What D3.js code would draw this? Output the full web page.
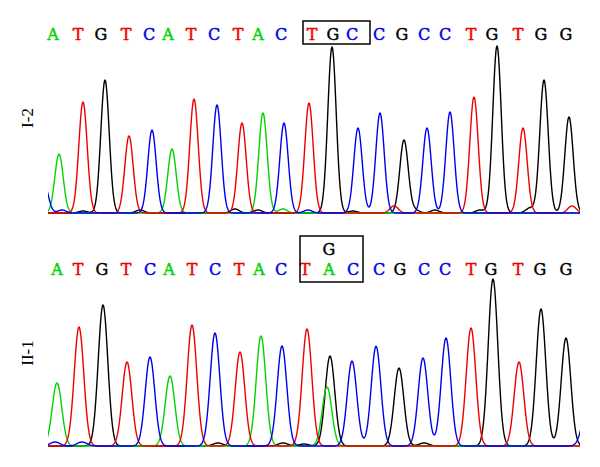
<!DOCTYPE html>
<html>
<head>
<meta charset="utf-8">
<script src="https://cdn.jsdelivr.net/npm/d3@7"></script>
<style>
  body { margin: 0; background: #fff; }
  svg { display: block; }
</style>
</head>
<body>
<div class="canvas"></div>
<script>
// base colours, as in the usual trace viewers
const baseColor = {A: '#00d400', C: '#0000ee', G: '#000000', T: '#ee0000'};

// ---- panel I-2 ----
const topCalls = 'ATGTCATCTACTGCCGCCTGTGG';
const topCallPos = [5, 30, 53, 78, 101, 120, 143, 166, 190, 210, 233, 264, 285, 304, 331, 354, 376, 397, 423, 444, 470, 493, 518];
const topPeakBase = 'ATGTCATCTACTGCCGCCTGTGG';
const topPeakPos = [11, 35, 57, 81, 104, 124, 146, 169, 194, 215, 236, 261, 284, 310, 332, 356, 379, 402, 426, 449, 475, 496, 521];
const topPeakHeight = [59, 111, 133, 77, 83, 64, 114, 108, 90, 100, 90, 110, 166, 85, 100, 73, 85, 101, 116, 167, 85, 133, 96];
const topNoiseBase = 'CCGGGGACGTGGGGT';
const topNoisePos = [-4, 14, 35, 92, 187, 210, 235, 260, 305, 346, 367, 387, 432, 482, 524];
const topNoiseHeight = [30, 3, 2, 3, 4, 3, 4, 3, 2, 7, 3, 3, 3, 5, 7];

// ---- panel II-1 ----
const botCalls = 'ATGTCATCTACTACCGCCTGTGG';
const botCallPos = [9, 30, 54, 78, 102, 121, 144, 167, 191, 211, 233, 257, 281, 305, 331, 352, 376, 397, 423, 443, 470, 492, 518];
const botPeakBase = 'ATGTCATCTACTGACCGCCTGTGG';
const botPeakPos = [9, 31, 55, 79, 102, 122, 144, 167, 192, 213, 234, 259, 282, 279, 304, 328, 351, 375, 398, 423, 445, 471, 493, 518];
const botPeakHeight = [63, 119, 141, 84, 89, 70, 121, 113, 94, 110, 100, 117, 90, 59, 85, 97, 78, 88, 108, 118, 167, 84, 137, 108];
const botNoiseBase = 'CCGGGCGC';
const botNoisePos = [7, 34, 170, 235, 256, 330, 376, 538];
const botNoiseHeight = [4, 4, 3, 3, 2, 3, 3, 30];

// highlighted codon (scan units) and the second call above it
const topBox = [255, 322];
const botBox = [252, 315];
const botExtraCall = {base: 'G', index: 12};

const width = 600;
const height = 467;
const callFont = '"DejaVu Serif", serif';

const svg = d3.select('.canvas')
  .append('svg')
  .attr('width', width)
  .attr('height', height);

const x = d3.scaleLinear()
  .domain([0, 532])
  .range([48, 580]);

svg.append('clipPath')
  .attr('id', 'plot-clip')
  .append('rect')
  .attr('x', x(0))
  .attr('y', 0)
  .attr('width', x(532) - x(0))
  .attr('height', height);

function callText(sel) {
  sel.attr('text-anchor', 'middle')
    .attr('font-family', callFont)
    .attr('font-size', 16)
    .attr('stroke-width', 0.45)
    .attr('fill', d => baseColor[d])
    .attr('stroke', d => baseColor[d])
    .text(d => d);
}

function drawPanel(opts) {
  const y = d3.scaleLinear()
    .domain([0, 180])
    .range([opts.baseline, opts.baseline - 180]);

  // build one trace per base as a sum of peaks
  const peaks = [];
  opts.peakBase.split('').forEach((b, i) => peaks.push({b: b, pos: opts.peakPos[i], h: opts.peakHeight[i]}));
  opts.noiseBase.split('').forEach((b, i) => peaks.push({b: b, pos: opts.noisePos[i], h: opts.noiseHeight[i]}));

  const samples = d3.range(-12, 545, 0.5);
  const line = d3.line()
    .x(d => x(d[0]))
    .y(d => y(d[1]));

  const g = svg.append('g').attr('clip-path', 'url(#plot-clip)');

  ['G', 'A', 'T', 'C'].forEach(b => {
    const mine = peaks.filter(p => p.b === b);
    const trace = samples.map(s => [s, d3.sum(mine, p => p.h * Math.exp(-((s - p.pos) ** 2) / (2 * opts.sigma * opts.sigma)))]);
    g.append('path')
      .datum(trace)
      .attr('fill', 'none')
      .attr('stroke', baseColor[b])
      .attr('stroke-width', 1.4)
      .attr('stroke-linejoin', 'round')
      .attr('d', line);
  });

  svg.append('g')
    .selectAll('text')
    .data(opts.calls.split(''))
    .enter()
    .append('text')
    .attr('x', (d, i) => x(opts.callPos[i]))
    .attr('y', opts.letterY)
    .call(callText);

  svg.append('rect')
    .attr('x', x(opts.box[0]))
    .attr('y', opts.boxY[0])
    .attr('width', x(opts.box[1]) - x(opts.box[0]))
    .attr('height', opts.boxY[1] - opts.boxY[0])
    .attr('fill', 'none')
    .attr('stroke', '#000')
    .attr('stroke-width', 1.5);

  svg.append('text')
    .attr('transform', `translate(${opts.labelX}, ${opts.labelY}) rotate(-90)`)
    .attr('text-anchor', 'middle')
    .attr('dy', '0.35em')
    .attr('font-family', '"Liberation Serif", "Times New Roman", serif')
    .attr('font-size', 17)
    .text(opts.label);
}

drawPanel({
  label: 'I-2', labelX: 27, labelY: 118,
  baseline: 213, sigma: 4.2,
  calls: topCalls, callPos: topCallPos,
  peakBase: topPeakBase, peakPos: topPeakPos, peakHeight: topPeakHeight,
  noiseBase: topNoiseBase, noisePos: topNoisePos, noiseHeight: topNoiseHeight,
  letterY: 40, box: topBox, boxY: [21, 44]
});

drawPanel({
  label: 'II-1', labelX: 27, labelY: 353,
  baseline: 446, sigma: 4.8,
  calls: botCalls, callPos: botCallPos,
  peakBase: botPeakBase, peakPos: botPeakPos, peakHeight: botPeakHeight,
  noiseBase: botNoiseBase, noisePos: botNoisePos, noiseHeight: botNoiseHeight,
  letterY: 275, box: botBox, boxY: [236, 282]
});

// second call at the heterozygous position
svg.append('text')
  .datum(botExtraCall.base)
  .attr('x', x(botCallPos[botExtraCall.index]))
  .attr('y', 255)
  .call(callText);
</script>
</body>
</html>
